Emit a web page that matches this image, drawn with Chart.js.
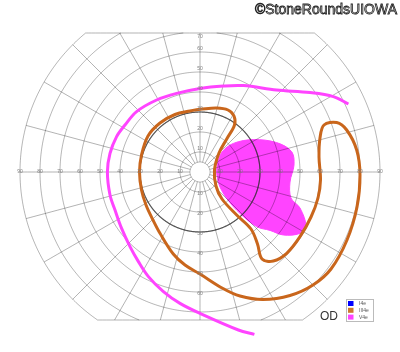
<!DOCTYPE html>
<html><head><meta charset="utf-8">
<script src="https://cdn.jsdelivr.net/npm/chart.js@4"></script>
<style>html,body{margin:0;padding:0;background:#fff;}#wrap{width:400px;height:352px;position:relative;}</style>
</head><body><div id="wrap"><canvas id="c" width="400" height="352"></canvas></div>
<script>
// ---- data (degrees of visual field) ----
const ringRadii = [5, 10, 20, 30, 40, 50, 60, 70, 80, 90];
const spokeAngles = [0, 15, 30, 45, 60, 75, 90, 105, 120, 135, 150, 165, 180, 195, 210, 225, 240, 255, 270, 285, 300, 315, 330, 345];
const horizontalTicks = [10, 20, 30, 40, 50, 60, 70, 80, 90];
const superiorTicks = [10, 20, 30, 40, 50, 60, 70];
const inferiorTicks = [10, 20, 30, 40, 50, 60];
const fieldTop = 69.5;
const fieldBottom = -74;
const highlightRing = 30;

const legendLabels = ['I4e', 'III4e', 'V4e'];
const legendColors = ['#0000ff', '#cc7a2e', '#ff44ff'];
const eyeLabel = 'OD';
const copyrightText = '\u00A9StoneRoundsUIOWA';

// V4e open isopter
const v4eLine = [[27.2,-81.2],[19.2,-79],[0,-70.7],[-10,-65.7],[-18.3,-59.8],[-25.8,-52.3],[-30.8,-44.8],[-35,-37.3],[-39.2,-28.2],[-42.5,-19],[-45,-11.5],[-46.3,0],[-45,9.3],[-41.7,17.7],[-37.5,23.5],[-31.7,30.2],[-21.7,36],[-11.7,39.3],[0,41.8],[11.7,43],[21.7,43.2],[38.3,41],[55,39.7],[66.7,37.7],[74.2,34]];
// V4e filled scotoma
const v4eArea = [[8.6,4],[11,10],[16.7,14.3],[26.7,16.2],[38.3,14.7],[45.8,10.2],[47,3.5],[45,-5],[45.5,-13],[50,-18],[53,-27.3],[50,-30.7],[41.7,-31.5],[35,-29.2],[28.3,-27.3],[20,-20.7],[14.2,-14.3],[10,-7.5],[8.4,-1],[8.6,4]];
// III4e closed isopter
const iii4eLine = [[0,31.35],[8.35,32],[14,31],[17,28],[17.25,23.5],[13.5,16.75],[9.5,9.5],[7.25,1],[8,-7],[11,-13.5],[18.35,-21.5],[25.5,-28.5],[28.75,-36],[31,-43.5],[36.65,-44.5],[43.35,-40.65],[50,-32.35],[55.5,-22.5],[59,-13],[60.25,-4],[59.5,7.5],[60,17],[62,23.5],[68.35,24.75],[73.35,21],[78.35,11],[80,-1.5],[78.5,-17.5],[73.5,-34],[65.5,-48.5],[56.5,-56.5],[45,-61.75],[31.5,-63.75],[20,-62],[11.5,-58.25],[0,-51],[-7.5,-46.5],[-13.35,-41],[-20,-30.65],[-23.5,-24],[-27,-16.5],[-29.25,-9],[-30.25,0],[-29.25,8.5],[-26,18],[-20,24.5],[-12.5,28.75],[-5,30.5],[0,31.35]];

// ---- grid geometry built from the field limits ----
const D = Math.PI / 180;
function arc(r, a0, a1) {
  const pts = [];
  const n = Math.max(2, Math.ceil(a1 - a0));
  for (let i = 0; i <= n; i++) {
    const a = (a0 + (a1 - a0) * i / n) * D;
    pts.push({x: r * Math.cos(a), y: r * Math.sin(a)});
  }
  return pts;
}
function ringSegments(r) {
  const t = r > fieldTop ? Math.asin(fieldTop / r) / D : null;
  const b = r > -fieldBottom ? Math.asin(-fieldBottom / r) / D : null;
  if (t === null && b === null) return [arc(r, 0, 360)];
  if (b === null) return [arc(r, 180 - t, 360 + t)];
  if (t === null) return [arc(r, -b, 180 + b)];
  return [arc(r, -b, t), arc(r, 180 - t, 180 + b)];
}
function spoke(a) {
  const s = Math.sin(a * D), c = Math.cos(a * D);
  let rEnd = 90;
  if (s > 1e-9 && 90 * s > fieldTop) rEnd = fieldTop / s;
  if (s < -1e-9 && 90 * s < fieldBottom) rEnd = fieldBottom / s;
  return [{x: 5 * c, y: 5 * s}, {x: rEnd * c, y: rEnd * s}];
}
const toPts = arr => arr.map(p => ({x: p[0], y: p[1]}));

const gridColor = 'rgba(0,0,0,0.3)';
const gridLine = data => ({data, showLine: true, borderColor: gridColor, borderWidth: 1, pointRadius: 0, fill: false, tension: 0.0001});
const datasets = [];
datasets.push({data: toPts(iii4eLine), showLine: true, borderColor: '#c9661c', borderWidth: 3, tension: 0.35, pointRadius: 0, fill: false});
datasets.push({data: toPts(v4eLine), showLine: true, borderColor: '#ff44ff', borderWidth: 3, tension: 0.35, pointRadius: 0, fill: false});
datasets.push({data: arc(highlightRing, 0, 360), showLine: true, borderColor: 'rgba(50,50,50,0.75)', borderWidth: 1.2, pointRadius: 0, fill: false, tension: 0.0001});
ringRadii.forEach(r => ringSegments(r).forEach(seg => datasets.push(gridLine(seg))));
spokeAngles.forEach(a => datasets.push(gridLine(spoke(a))));
const wt = Math.sqrt(90 * 90 - fieldTop * fieldTop), wb = Math.sqrt(90 * 90 - fieldBottom * fieldBottom);
datasets.push(gridLine([{x: -wt, y: fieldTop}, {x: wt, y: fieldTop}]));
datasets.push(gridLine([{x: -wb, y: fieldBottom}, {x: wb, y: fieldBottom}]));
datasets.push({data: toPts(v4eArea), showLine: true, borderColor: '#ff44ff', borderWidth: 1, backgroundColor: '#ff44ff', tension: 0.35, pointRadius: 0, fill: 'shape'});

const overlay = {
  id: 'overlay',
  afterDraw(chart) {
    const ctx = chart.ctx, xs = chart.scales.x, ys = chart.scales.y;
    ctx.save();
    ctx.font = '5px "Liberation Sans", Arial, sans-serif';
    ctx.fillStyle = '#808080';
    ctx.textAlign = 'center';
    ctx.textBaseline = 'middle';
    horizontalTicks.forEach(v => {
      ctx.fillText(String(v), xs.getPixelForValue(-v), ys.getPixelForValue(0));
      ctx.fillText(String(v), xs.getPixelForValue(v), ys.getPixelForValue(0));
    });
    superiorTicks.forEach(v => {
      const yv = Math.min(v, fieldTop - 2);
      ctx.fillText(String(v), xs.getPixelForValue(0), ys.getPixelForValue(yv) - (v < fieldTop ? 3 : 0));
    });
    inferiorTicks.forEach(v => {
      ctx.fillText(String(v), xs.getPixelForValue(0), ys.getPixelForValue(-v) + 2);
    });
    // legend
    const lx = 346, ly = 299;
    ctx.fillStyle = '#fff';
    ctx.fillRect(lx, ly, 27, 22);
    ctx.strokeStyle = '#bbb';
    ctx.lineWidth = 1;
    ctx.strokeRect(lx + 0.5, ly + 0.5, 27, 22);
    ctx.textAlign = 'left';
    legendLabels.forEach((lab, i) => {
      ctx.fillStyle = legendColors[i];
      ctx.fillRect(lx + 2, ly + 2 + i * 6.8, 5.5, 5);
      ctx.fillStyle = '#555';
      ctx.fillText(lab, lx + 13, ly + 4.6 + i * 6.8);
    });
    // eye label
    ctx.font = '12px "Liberation Sans", Arial, sans-serif';
    ctx.fillStyle = '#333';
    ctx.textAlign = 'center';
    ctx.fillText(eyeLabel, 329, 317);
    // copyright
    ctx.font = '14px "Liberation Sans", Arial, sans-serif';
    ctx.textAlign = 'right';
    ctx.textBaseline = 'alphabetic';
    ctx.fillStyle = '#e0e0e0';
    ctx.fillText(copyrightText, 397, 14);
    ctx.strokeStyle = '#222';
    ctx.lineWidth = 0.8;
    ctx.strokeText(copyrightText, 397, 14);
    ctx.restore();
  }
};

new Chart(document.getElementById('c'), {
  type: 'scatter',
  data: {datasets},
  options: {
    responsive: false,
    animation: false,
    events: [],
    layout: {padding: 0},
    plugins: {legend: {display: false}, tooltip: {enabled: false}},
    scales: {
      x: {type: 'linear', min: -100, max: 100, display: false},
      y: {type: 'linear', min: -90, max: 86, display: false}
    }
  },
  plugins: [overlay]
});
</script></body></html>
